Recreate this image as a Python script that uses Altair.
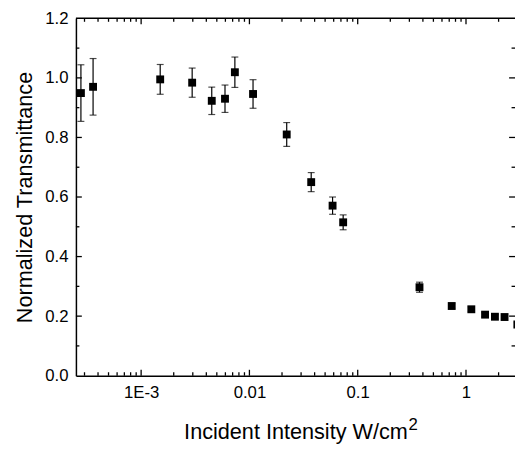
import altair as alt
import pandas as pd
import math

# ---- data ----
intensity = [2.78e-4, 3.6e-4, 1.5e-3, 2.96e-3, 4.49e-3, 5.95e-3, 7.34e-3, 0.0108,
             0.0221, 0.0372, 0.0586, 0.0734, 0.372, 0.738, 1.12, 1.5, 1.85, 2.27, 2.98]
transmittance = [0.949, 0.970, 0.995, 0.984, 0.923, 0.930, 1.019, 0.946,
                 0.810, 0.650, 0.571, 0.515, 0.297, 0.234, 0.223, 0.205, 0.198, 0.197, 0.172]
error = [0.095, 0.095, 0.050, 0.049, 0.046, 0.046, 0.051, 0.048,
         0.040, 0.032, 0.029, 0.025, 0.017, 0.008, 0.008, 0.007, 0.007, 0.007, 0.006]

x_major = [1e-3, 1e-2, 1e-1, 1.0]
y_major = [0.2, 0.4, 0.6, 0.8, 1.0]
y_minor = [0.1, 0.3, 0.5, 0.7, 0.9, 1.1]
y_labels = [0.0, 0.2, 0.4, 0.6, 0.8, 1.0, 1.2]

X_TITLE = "Incident Intensity W/cm"
X_TITLE_SUP = "2"
Y_TITLE = "Normalized Transmittance"

W, H = 446, 363
XMIN = 2.5e-4
XMAX = 10 ** (math.log10(XMIN) + W / 110.0)
TITLE_SIZE = 22

x_minor = []
for d in [1e-4, 1e-3, 1e-2, 1e-1, 1.0]:
    for m in range(2, 10):
        v = m * d
        if XMIN < v < XMAX:
            x_minor.append(v)

df = pd.DataFrame({"I": intensity, "T": transmittance, "E": error})
df["lo"] = df["T"] - df["E"]
df["hi"] = df["T"] + df["E"]

FONT = "Liberation Sans"
xscale = alt.Scale(type="log", domain=[XMIN, XMAX])
yscale = alt.Scale(domain=[0, 1.2])

x_axis = alt.Axis(values=x_major, labelExpr="datum.value == 0.001 ? '1E-3' : toString(datum.value)",
                  title=X_TITLE, grid=False, ticks=False, tickSize=0,
                  labelPadding=9, titlePadding=22, domain=True)
y_axis = alt.Axis(values=y_labels, format=".1f", title=Y_TITLE, grid=False,
                  ticks=False, tickSize=0, labelPadding=8, titlePadding=8, domain=True)


def XF(field):
    return alt.X(field, scale=xscale, axis=x_axis, title=X_TITLE)


def YF(field):
    return alt.Y(field, scale=yscale, axis=y_axis, title=Y_TITLE)


base = alt.Chart(df)

bars = base.mark_rule(color="black", strokeWidth=1.2).encode(x=XF("I:Q"), y=YF("lo:Q"), y2="hi:Q")
cap_lo = base.mark_tick(color="black", orient="horizontal", size=7, thickness=1.2).encode(
    x=XF("I:Q"), y=YF("lo:Q"))
cap_hi = base.mark_tick(color="black", orient="horizontal", size=7, thickness=1.2).encode(
    x=XF("I:Q"), y=YF("hi:Q"))
pts = base.mark_square(color="black", size=64, opacity=1).encode(x=XF("I:Q"), y=YF("T:Q"))


def xticks(vals, length):
    d = pd.DataFrame({"I": vals})
    c = alt.Chart(d).mark_rule(color="black", strokeWidth=1.3)
    bottom = c.encode(x=XF("I:Q"), y=alt.value(H), y2=alt.value(H - length))
    top = c.encode(x=XF("I:Q"), y=alt.value(0), y2=alt.value(length))
    return [bottom, top]


def yticks(vals, length):
    d = pd.DataFrame({"T": vals})
    c = alt.Chart(d).mark_rule(color="black", strokeWidth=1.3)
    left = c.encode(y=YF("T:Q"), x=alt.value(0), x2=alt.value(length))
    right = c.encode(y=YF("T:Q"), x=alt.value(W), x2=alt.value(W - length))
    return [left, right]


top_line = alt.Chart(pd.DataFrame({"a": [0]})).mark_rule(color="black", strokeWidth=1.5).encode(
    y=alt.value(0), x=alt.value(0), x2=alt.value(W))

# superscript of the x-axis title unit (cm^2)
half_title = 10.337 * TITLE_SIZE / 2
sup = alt.Chart(pd.DataFrame({"s": [X_TITLE_SUP]})).mark_text(
    font=FONT, fontSize=17, color="black", align="left", baseline="alphabetic").encode(
    text="s:N", x=alt.value(W / 2 + half_title + 1), y=alt.value(H + 55))

layers = [pts] + xticks(x_major, 6) + xticks(x_minor, 3.5) + yticks(y_major, 6) + yticks(y_minor, 3.5) \
    + [top_line, bars, cap_lo, cap_hi, sup]

chart = alt.layer(*layers).properties(
    width=W, height=H,
    autosize=alt.AutoSizeParams(type="none"),
    padding={"left": 69, "top": 7, "right": 0, "bottom": 73},
).configure_view(stroke=None).configure_axis(
    labelFont=FONT, titleFont=FONT, labelFontSize=17, titleFontSize=TITLE_SIZE,
    labelColor="black", titleColor="black", titleFontWeight="normal",
    domainColor="black", domainWidth=1.5,
)

chart.save("out.html", embed_options={"renderer": "svg", "actions": False})
